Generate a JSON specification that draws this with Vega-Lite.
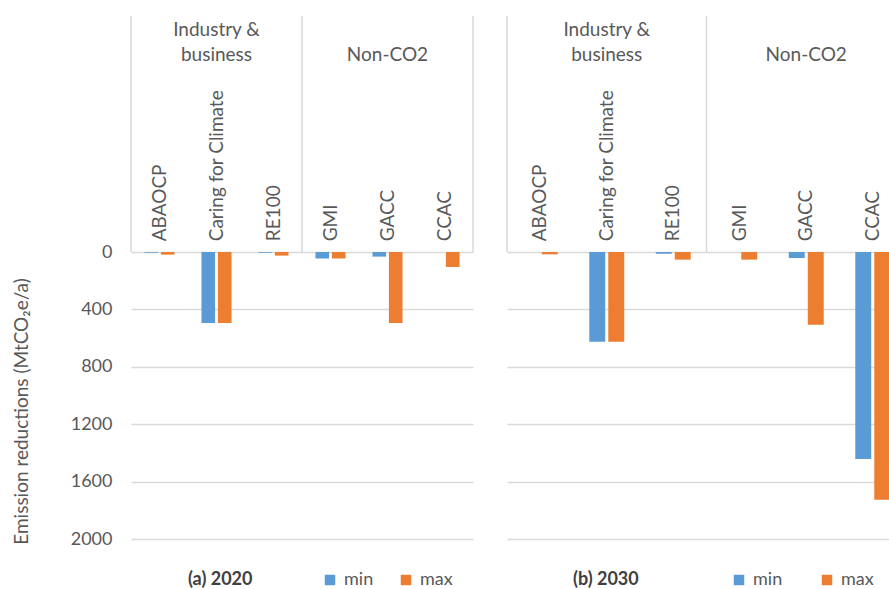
{
  "$schema": "https://vega.github.io/schema/vega-lite/v6.json",
  "padding": {"top": 15, "left": 12, "right": 0, "bottom": 0},
  "config": {"view": {"stroke": null}, "font": "Lato", "text": {"font": "Lato"}},
  "datasets": {
    "bars": [
      {"panel": "2020", "cat": "ABAOCP", "series": "min", "value": 5},
      {"panel": "2020", "cat": "ABAOCP", "series": "max", "value": 18},
      {"panel": "2020", "cat": "Caring for Climate", "series": "min", "value": 495},
      {"panel": "2020", "cat": "Caring for Climate", "series": "max", "value": 495},
      {"panel": "2020", "cat": "RE100", "series": "min", "value": 5},
      {"panel": "2020", "cat": "RE100", "series": "max", "value": 25},
      {"panel": "2020", "cat": "GMI", "series": "min", "value": 45},
      {"panel": "2020", "cat": "GMI", "series": "max", "value": 45},
      {"panel": "2020", "cat": "GACC", "series": "min", "value": 32},
      {"panel": "2020", "cat": "GACC", "series": "max", "value": 495},
      {"panel": "2020", "cat": "CCAC", "series": "min", "value": 0},
      {"panel": "2020", "cat": "CCAC", "series": "max", "value": 104},
      {"panel": "2030", "cat": "ABAOCP", "series": "min", "value": 0},
      {"panel": "2030", "cat": "ABAOCP", "series": "max", "value": 16},
      {"panel": "2030", "cat": "Caring for Climate", "series": "min", "value": 625},
      {"panel": "2030", "cat": "Caring for Climate", "series": "max", "value": 625},
      {"panel": "2030", "cat": "RE100", "series": "min", "value": 12},
      {"panel": "2030", "cat": "RE100", "series": "max", "value": 53},
      {"panel": "2030", "cat": "GMI", "series": "min", "value": 0},
      {"panel": "2030", "cat": "GMI", "series": "max", "value": 53},
      {"panel": "2030", "cat": "GACC", "series": "min", "value": 42},
      {"panel": "2030", "cat": "GACC", "series": "max", "value": 507},
      {"panel": "2030", "cat": "CCAC", "series": "min", "value": 1442},
      {"panel": "2030", "cat": "CCAC", "series": "max", "value": 1726}
    ],
    "groups": [
      {"group": "Industry &\nbusiness", "cat": "Caring for Climate"},
      {"group": "Non-CO2", "cat": "GACC"}
    ]
  },
  "resolve": {"scale": {"color": "independent", "x": "independent", "y": "independent", "xOffset": "independent"}, "legend": {"color": "independent"}},
  "spacing": 32,
  "hconcat": [
    {
      "width": 342,
      "height": 523,
      "data": {"name": "bars"},
      "transform": [{"filter": "datum.panel == '2020'"}],
      "encoding": {
        "x": {"field": "cat", "type": "nominal", "scale": {"domain": ["ABAOCP", "Caring for Climate", "RE100", "GMI", "GACC", "CCAC"], "paddingInner": 0, "paddingOuter": 0}, "axis": null}
      },
      "layer": [
        {
          "mark": {"type": "bar"},
          "encoding": {
            "xOffset": {"field": "series", "type": "nominal", "scale": {"domain": ["min", "max"], "paddingInner": 0.17, "paddingOuter": 0.82}},
            "y": {"field": "value", "type": "quantitative",
              "scale": {"domain": [-1645, 2000], "reverse": true, "nice": false, "zero": false},
              "axis": {"values": [0, 400, 800, 1200, 1600, 2000], "format": "d", "title": "Emission reductions (MtCO₂e/a)", "grid": true, "gridColor": "#D9D9D9", "gridWidth": 1.5, "domain": false, "ticks": false, "labelPadding": 19, "labelFontSize": 18, "labelColor": "#595959", "labelFont": "Lato", "titleFont": "Lato", "titleFontSize": 19, "titleFontWeight": "normal", "titleColor": "#595959", "titlePadding": 39, "titleY": 395}},
            "y2": {"datum": 0},
            "color": {"field": "series", "type": "nominal",
              "scale": {"domain": ["min", "max"], "range": ["#5B9BD5", "#ED7D31"]},
              "legend": {"title": "(a) 2020", "orient": "none", "legendX": 57, "legendY": 555, "direction": "horizontal", "titleOrient": "left", "titleFontSize": 18, "titleFont": "Lato", "titleFontWeight": "bold", "titleColor": "#404040", "titlePadding": 68, "titleBaseline": "middle", "labelFontSize": 18, "labelFont": "Lato", "labelColor": "#595959", "symbolType": "square", "symbolSize": 110, "symbolStrokeWidth": 0, "labelOffset": 5, "columnPadding": 23}}
          }
        },
        {
          "transform": [{"filter": "datum.series == 'min'"}],
          "mark": {"type": "text", "angle": 270, "align": "left", "baseline": "middle", "fontSize": 19, "color": "#595959"},
          "encoding": {"y": {"datum": -75}, "text": {"field": "cat"}}
        },
        {
          "data": {"name": "groups"},
          "transform": [{"filter": "datum.group != 'Non-CO2'"}],
          "mark": {"type": "text", "align": "center", "baseline": "bottom", "lineBreak": "\n", "lineHeight": 25, "fontSize": 19, "color": "#595959"},
          "encoding": {"y": {"datum": -1477}, "text": {"field": "group"}}
        },
        {
          "data": {"name": "groups"},
          "transform": [{"filter": "datum.group == 'Non-CO2'"}],
          "mark": {"type": "text", "align": "center", "baseline": "bottom", "fontSize": 19, "color": "#595959"},
          "encoding": {"y": {"datum": -1303}, "text": {"field": "group"}}
        },
        {
          "transform": [{"filter": "datum.series == 'min' && (datum.cat == 'ABAOCP' || datum.cat == 'GMI')"}],
          "mark": {"type": "rule", "color": "#D9D9D9", "strokeWidth": 1.5},
          "encoding": {"x": {"field": "cat", "type": "nominal", "bandPosition": 0}, "y": {"datum": -1645}, "y2": {"datum": 0}}
        },
        {
          "transform": [{"filter": "datum.series == 'min' && datum.cat == 'CCAC'"}],
          "mark": {"type": "rule", "color": "#D9D9D9", "strokeWidth": 1.5},
          "encoding": {"x": {"field": "cat", "type": "nominal", "bandPosition": 1}, "y": {"datum": -1645}, "y2": {"datum": 0}}
        }
      ]
    },
    {
      "width": 399,
      "height": 523,
      "data": {"name": "bars"},
      "transform": [{"filter": "datum.panel == '2030'"}],
      "encoding": {
        "x": {"field": "cat", "type": "nominal", "scale": {"domain": ["ABAOCP", "Caring for Climate", "RE100", "GMI", "GACC", "CCAC"], "paddingInner": 0, "paddingOuter": 0}, "axis": null}
      },
      "layer": [
        {
          "mark": {"type": "bar"},
          "encoding": {
            "xOffset": {"field": "series", "type": "nominal", "scale": {"domain": ["min", "max"], "paddingInner": 0.16, "paddingOuter": 0.83}},
            "y": {"field": "value", "type": "quantitative",
              "scale": {"domain": [-1645, 2000], "reverse": true, "nice": false, "zero": false},
              "axis": {"values": [0, 400, 800, 1200, 1600, 2000], "title": null, "labels": false, "grid": true, "gridColor": "#D9D9D9", "gridWidth": 1.5, "domain": false, "ticks": false}},
            "y2": {"datum": 0},
            "color": {"field": "series", "type": "nominal",
              "scale": {"domain": ["min", "max"], "range": ["#5B9BD5", "#ED7D31"]},
              "legend": {"title": "(b) 2030", "orient": "none", "legendX": 66, "legendY": 555, "direction": "horizontal", "titleOrient": "left", "titleFontSize": 18, "titleFont": "Lato", "titleFontWeight": "bold", "titleColor": "#404040", "titlePadding": 91, "titleBaseline": "middle", "labelFontSize": 18, "labelFont": "Lato", "labelColor": "#595959", "symbolType": "square", "symbolSize": 110, "symbolStrokeWidth": 0, "labelOffset": 5, "columnPadding": 35}}
          }
        },
        {
          "transform": [{"filter": "datum.series == 'min'"}],
          "mark": {"type": "text", "angle": 270, "align": "left", "baseline": "middle", "fontSize": 19, "color": "#595959"},
          "encoding": {"y": {"datum": -75}, "text": {"field": "cat"}}
        },
        {
          "data": {"name": "groups"},
          "transform": [{"filter": "datum.group != 'Non-CO2'"}],
          "mark": {"type": "text", "align": "center", "baseline": "bottom", "lineBreak": "\n", "lineHeight": 25, "fontSize": 19, "color": "#595959"},
          "encoding": {"y": {"datum": -1477}, "text": {"field": "group"}}
        },
        {
          "data": {"name": "groups"},
          "transform": [{"filter": "datum.group == 'Non-CO2'"}],
          "mark": {"type": "text", "align": "center", "baseline": "bottom", "fontSize": 19, "color": "#595959"},
          "encoding": {"y": {"datum": -1303}, "text": {"field": "group"}}
        },
        {
          "transform": [{"filter": "datum.series == 'min' && (datum.cat == 'ABAOCP' || datum.cat == 'GMI')"}],
          "mark": {"type": "rule", "color": "#D9D9D9", "strokeWidth": 1.5},
          "encoding": {"x": {"field": "cat", "type": "nominal", "bandPosition": 0}, "y": {"datum": -1645}, "y2": {"datum": 0}}
        },
        {
          "transform": [{"filter": "datum.series == 'min' && datum.cat == 'CCAC'"}],
          "mark": {"type": "rule", "color": "#D9D9D9", "strokeWidth": 1.5},
          "encoding": {"x": {"field": "cat", "type": "nominal", "bandPosition": 1}, "y": {"datum": -1645}, "y2": {"datum": 0}}
        }
      ]
    }
  ]
}
